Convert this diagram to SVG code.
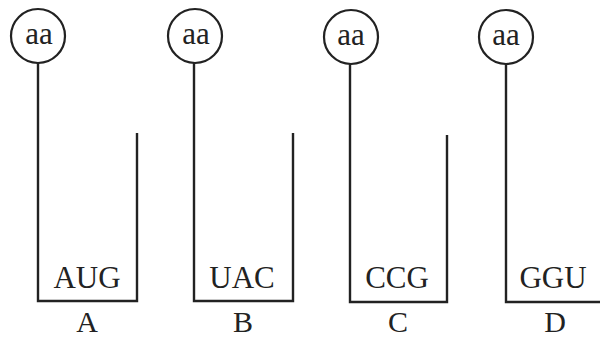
<svg xmlns="http://www.w3.org/2000/svg" width="600" height="337" viewBox="0 0 600 337">
  <style>
    .bg { fill: #ffffff; }
    .ring { fill: none; stroke: #222; stroke-width: 2.2; }
    .arm { fill: none; stroke: #222; stroke-width: 2.4; stroke-linejoin: miter; }
    .aa { font-family: "Liberation Serif", "Times New Roman", serif; font-size: 31px; fill: #222; text-anchor: middle; }
    .codon { font-family: "Liberation Serif", "Times New Roman", serif; font-size: 31px; fill: #222; text-anchor: middle; }
    .label { font-family: "Liberation Serif", "Times New Roman", serif; font-size: 30px; fill: #222; text-anchor: middle; }
  </style>
  <rect class="bg" x="0" y="0" width="600" height="337"/>

  <g id="trna-A">
    <circle class="ring" cx="38" cy="36" r="27"/>
    <text class="aa" x="39" y="44">aa</text>
    <path class="arm" d="M38 63 V301 H137 V133"/>
    <text class="codon" x="87" y="288">AUG</text>
    <text class="label" x="87" y="332">A</text>
  </g>

  <g id="trna-B">
    <circle class="ring" cx="195" cy="36" r="27"/>
    <text class="aa" x="196" y="44">aa</text>
    <path class="arm" d="M194 63 V301 H293 V133"/>
    <text class="codon" x="242" y="288">UAC</text>
    <text class="label" x="243" y="332">B</text>
  </g>

  <g id="trna-C">
    <circle class="ring" cx="351" cy="37" r="27"/>
    <text class="aa" x="351" y="45">aa</text>
    <path class="arm" d="M350 64 V302 H447 V135"/>
    <text class="codon" x="397" y="288">CCG</text>
    <text class="label" x="398" y="332">C</text>
  </g>

  <g id="trna-D">
    <circle class="ring" cx="506" cy="37" r="27"/>
    <text class="aa" x="506" y="45">aa</text>
    <path class="arm" d="M506 64 V302 H604"/>
    <text class="codon" x="553" y="288">GGU</text>
    <text class="label" x="555" y="332">D</text>
  </g>

  <g id="connectors"></g>
</svg>
